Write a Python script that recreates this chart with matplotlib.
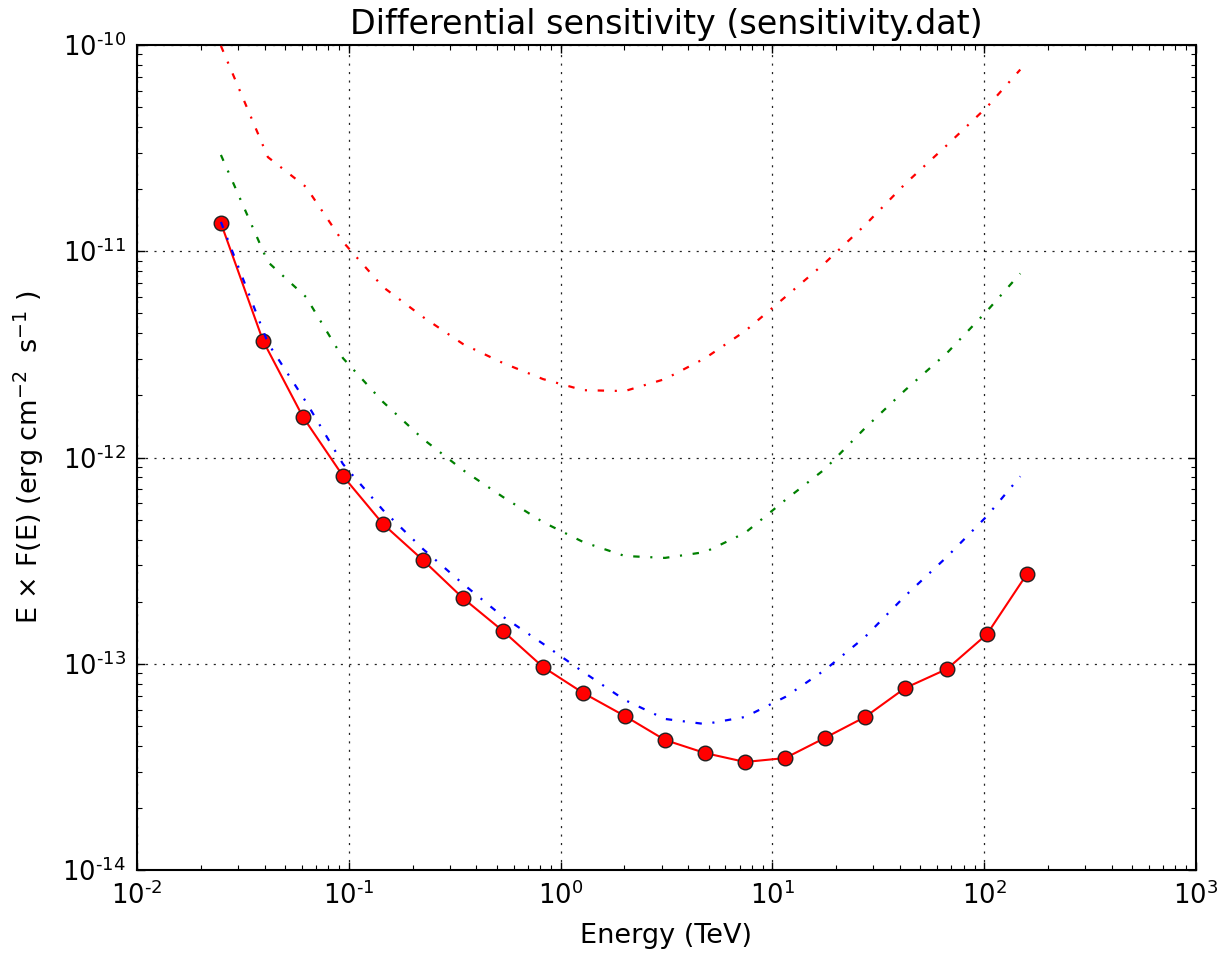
import math
import matplotlib
matplotlib.use('Agg')
import matplotlib.pyplot as plt
from matplotlib.ticker import FixedLocator, LogLocator, FuncFormatter, NullFormatter

# ---- data ----
energy_points = [0.0249, 0.0394, 0.0608, 0.0939, 0.145, 0.224, 0.346, 0.535, 0.826,
                 1.28, 2.01, 3.11, 4.81, 7.43, 11.5, 17.7, 27.4, 42.3, 66.7, 103.0, 159.0]
sensitivity_points = [1.37e-11, 3.67e-12, 1.57e-12, 8.13e-13, 4.76e-13, 3.18e-13, 2.08e-13,
                      1.44e-13, 9.64e-14, 7.21e-14, 5.58e-14, 4.27e-14, 3.69e-14, 3.34e-14,
                      3.49e-14, 4.37e-14, 5.52e-14, 7.62e-14, 9.43e-14, 1.39e-13, 2.72e-13]

energy_curves = [0.0249, 0.0415, 0.0628, 0.0939, 0.145, 0.224, 0.346, 0.535, 0.826,
                 1.28, 2.01, 3.11, 4.81, 7.43, 11.5, 17.7, 27.4, 42.3, 66.7, 103.0, 148.0]
curve_red = [9.9e-11, 2.86e-11, 2.05e-11, 1.11e-11, 6.71e-12, 4.80e-12, 3.55e-12, 2.87e-12,
             2.40e-12, 2.12e-12, 2.10e-12, 2.40e-12, 3.03e-12, 4.10e-12, 6.00e-12, 8.77e-12,
             1.34e-11, 2.12e-11, 3.27e-11, 5.00e-11, 7.60e-11]
curve_green = [2.93e-11, 8.87e-12, 6.00e-12, 3.03e-12, 1.86e-12, 1.23e-12, 8.69e-13, 6.43e-13,
               4.86e-13, 3.89e-13, 3.33e-13, 3.26e-13, 3.48e-13, 4.31e-13, 6.22e-13, 8.79e-13,
               1.39e-12, 2.12e-12, 3.21e-12, 5.13e-12, 7.80e-12]
curve_blue = [1.387e-11, 3.59e-12, 1.86e-12, 9.29e-13, 5.56e-13, 3.60e-13, 2.44e-13, 1.69e-13,
              1.25e-13, 9.12e-14, 6.67e-14, 5.40e-14, 5.10e-14, 5.52e-14, 6.90e-14, 9.33e-14,
              1.35e-13, 2.13e-13, 3.30e-13, 5.20e-13, 8.10e-13]

x_major_ticks = [1e-2, 1e-1, 1e0, 1e1, 1e2, 1e3]
y_major_ticks = [1e-14, 1e-13, 1e-12, 1e-11, 1e-10]

title_text = "Differential sensitivity (sensitivity.dat)"
xlabel_text = "Energy (TeV)"
ylabel_text = r"E $\times$ F(E) (erg cm$^{-2}$  s$^{-1}$ )"

# ---- style ----
plt.rcParams['font.family'] = ['DejaVu Sans']
plt.rcParams['lines.scale_dashes'] = False
plt.rcParams['axes.unicode_minus'] = False

fig = plt.figure(figsize=(12.29, 9.66), dpi=100)
ax = fig.add_axes([137/1229, 1 - 870/966, (1196-137)/1229, (870-45)/966])

dashdot = (0, (4.6, 7.7, 1.5, 7.7))
ax.plot(energy_points, sensitivity_points, '-', color=(1, 0, 0), lw=1.5,
        marker='o', markersize=10.5, markerfacecolor=(1, 0, 0),
        markeredgecolor='#222222', markeredgewidth=1.0, zorder=2)
ax.plot(energy_curves, curve_red, color=(1, 0, 0), lw=1.6, linestyle=dashdot, zorder=3)
ax.plot(energy_curves, curve_green, color=(0, 0.5, 0), lw=1.6, linestyle=dashdot, zorder=3)
ax.plot(energy_curves, curve_blue, color=(0, 0, 1), lw=1.6, linestyle=dashdot, zorder=3)

ax.set_xscale('log')
ax.set_yscale('log')
ax.set_xlim(1e-2, 1e3)
ax.set_ylim(1e-14, 1e-10)


def fmt(v, pos):
    e = int(round(math.log10(v)))
    if e < 0:
        return r'$10^{\text{-}%d}$' % (-e)
    return r'$10^{%d}$' % e


ax.xaxis.set_major_locator(FixedLocator(x_major_ticks))
ax.yaxis.set_major_locator(FixedLocator(y_major_ticks))
for axis in (ax.xaxis, ax.yaxis):
    axis.set_minor_locator(LogLocator(base=10, subs=range(2, 10), numticks=20))
    axis.set_major_formatter(FuncFormatter(fmt))
    axis.set_minor_formatter(NullFormatter())

ax.tick_params(which='both', direction='in', top=True, right=True, labelsize=18.5)
ax.tick_params(which='major', length=6, width=1.0, pad=8)
ax.tick_params(which='minor', length=3.5, width=0.8)

ax.grid(True, which='major', color='#222222', linestyle=(0, (1.5, 4.6)), linewidth=0.9)
for s in ax.spines.values():
    s.set_linewidth(1.5)

ax.set_title(title_text, fontsize=24, pad=8)
ax.set_xlabel(xlabel_text, fontsize=19.5)
ax.set_ylabel(ylabel_text, fontsize=19.5)
ax.xaxis.set_label_coords(0.5, -0.064)
ax.yaxis.set_label_coords(-0.086, 0.5)

fig.savefig('out.png', dpi=100)
